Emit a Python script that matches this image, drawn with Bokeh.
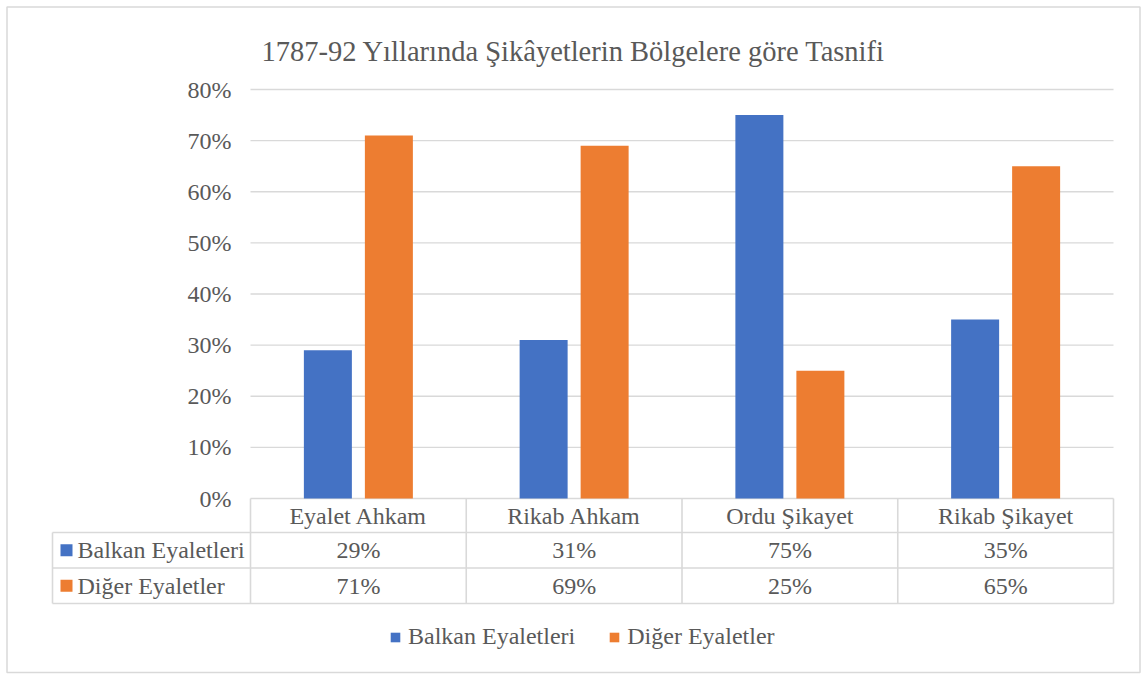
from bokeh.plotting import figure
from bokeh.models import ColumnDataSource, Range1d, Legend, LegendItem
from bokeh.transform import dodge
from bokeh.core.properties import value
from bokeh.embed import file_html
from bokeh.resources import INLINE

# ---- data ----
title_text = "1787-92 Yıllarında Şikâyetlerin Bölgelere göre Tasnifi"
categories = ["Eyalet Ahkam", "Rikab Ahkam", "Ordu Şikayet", "Rikab Şikayet"]
series_names = ["Balkan Eyaletleri", "Diğer Eyaletler"]
balkan = [29, 31, 75, 35]
diger = [71, 69, 25, 65]
y_ticks = [0, 10, 20, 30, 40, 50, 60, 70, 80]
tick_labels = ["0%", "10%", "20%", "30%", "40%", "50%", "60%", "70%", "80%"]
colors = ["#4472C4", "#ED7D31"]

# ---- layout (page pixels) ----
W, H = 1141, 675
OX, OY = 0, 0
PX0, PX1 = 250, 1113      # plot area left/right
PY0, PY80 = 498, 89       # y of 0% and 80%
ncat = len(categories)
cat_px = (PX1 - PX0) / ncat
y_px = (PY0 - PY80) / 80.0


def dx(px):
    return (px - PX0) / cat_px


def dy(py):
    return (PY0 - py) / y_px


FONT = value("Liberation Serif")
TXT = "#595959"
LINE = "#d9d9d9"
FS = "24px"

p = figure(width=W, height=H,
           x_range=Range1d(dx(OX), dx(OX + W)),
           y_range=Range1d(dy(OY + H), dy(OY)),
           output_backend="svg", toolbar_location=None, tools="",
           x_axis_type=None, y_axis_type=None, min_border=0)
p.outline_line_color = None
p.background_fill_color = "white"
p.border_fill_color = "white"

# chart border
p.quad(left=[dx(6.5)], right=[dx(1139.5)], top=[dy(6.5)], bottom=[dy(672)],
       fill_color=None, line_color=LINE, line_width=1.5)

# gridlines
p.segment(x0=[0] * len(y_ticks), x1=[ncat] * len(y_ticks), y0=y_ticks, y1=y_ticks,
          line_color=LINE, line_width=1.3)

# y tick labels
p.text(x=[dx(231)] * len(y_ticks), y=y_ticks, text=tick_labels,
       text_align="right", text_baseline="middle", text_font=FONT,
       text_font_size=FS, text_color=TXT)

# bars
src = ColumnDataSource(dict(
    x=[i + 0.5 for i in range(ncat)],
    cat=categories,
    balkan=balkan,
    diger=diger,
    balkan_lbl=[f"{v}%" for v in balkan],
    diger_lbl=[f"{v}%" for v in diger],
))
bw = 48 / cat_px
off = 30.5 / cat_px
r1 = p.vbar(x=dodge("x", -off, range=p.x_range), top="balkan", bottom=0, width=bw,
            source=src, fill_color=colors[0], line_color=None)
r2 = p.vbar(x=dodge("x", off, range=p.x_range), top="diger", bottom=0, width=bw,
            source=src, fill_color=colors[1], line_color=None)

# data table
row_y = [498, 532, 567.5, 603]
lw = 1.6
# horizontal lines
p.segment(x0=[dx(52)] * 3, x1=[ncat] * 3, y0=[dy(v) for v in row_y[1:]],
          y1=[dy(v) for v in row_y[1:]], line_color=LINE, line_width=lw)
# vertical lines in category area
p.segment(x0=list(range(ncat + 1)), x1=list(range(ncat + 1)),
          y0=[dy(row_y[0])] * (ncat + 1), y1=[dy(row_y[3])] * (ncat + 1),
          line_color=LINE, line_width=lw)
# left edge of label column
p.segment(x0=[dx(52)], x1=[dx(52)], y0=[dy(row_y[1])], y1=[dy(row_y[3])],
          line_color=LINE, line_width=lw)

hdr_y = dy((row_y[0] + row_y[1]) / 2)
r1_y = dy((row_y[1] + row_y[2]) / 2)
r2_y = dy((row_y[2] + row_y[3]) / 2)

common = dict(text_font=FONT, text_font_size=FS, text_color=TXT, text_baseline="middle")
p.text(x="x", y=hdr_y, text="cat", source=src, text_align="center", **common)
p.text(x="x", y=r1_y, text="balkan_lbl", source=src, text_align="center", **common)
p.text(x="x", y=r2_y, text="diger_lbl", source=src, text_align="center", **common)

# row labels with colour keys
p.rect(x=[dx(66)] * 2, y=[r1_y, r2_y], width=12, height=12,
       width_units="screen", height_units="screen", fill_color=colors, line_color=None)
p.text(x=[dx(77)] * 2, y=[r1_y, r2_y], text=series_names, text_align="left", **common)

# title
p.text(x=[dx(573)], y=[dy(51)], text=[title_text], text_align="center",
       text_baseline="alphabetic", text_font=FONT, text_font_size="28.5px",
       text_color=TXT)

# legend
legend = Legend(items=[LegendItem(label=series_names[0], renderers=[r1]),
                       LegendItem(label=series_names[1], renderers=[r2])],
                orientation="horizontal", location=(389 - OX, H - 650),
                glyph_width=12, glyph_height=12, label_standoff=7, spacing=33,
                label_text_font="Liberation Serif", label_text_font_size=FS,
                label_text_color=TXT, border_line_color=None,
                background_fill_alpha=0, padding=0, margin=0)
p.add_layout(legend)

open("out.html", "w").write(file_html(p, INLINE))
